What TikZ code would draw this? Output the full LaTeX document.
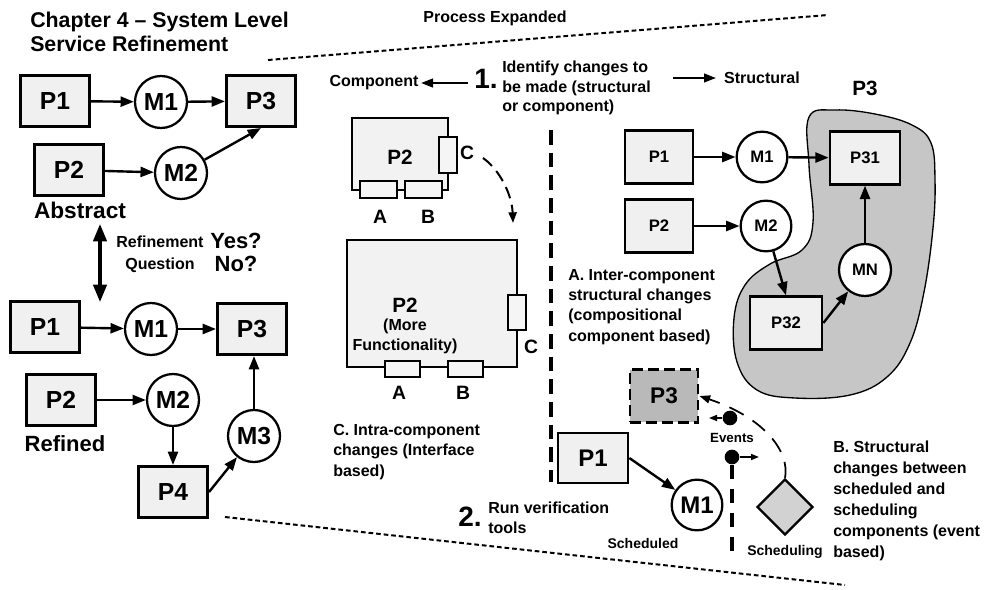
\documentclass[tikz,border=0pt]{standalone}
\usepackage{fontspec}
\setmainfont{Liberation Sans}
\usetikzlibrary{arrows.meta,shapes.geometric}
\newcommand{\fs}[1]{\fontsize{#1}{#1}\selectfont\bfseries}
\tikzset{
  pbox/.style={draw, line width=2pt, fill=gray!12, inner sep=0pt, minimum width=52pt, minimum height=38.5pt},
  mcirc/.style={circle, draw, line width=1.7pt, fill=white, inner sep=0pt, minimum size=39pt},
  conn/.style={line width=1.8pt, -{Triangle[length=10pt,width=7.5pt]}},
  smallconn/.style={line width=1.2pt, -{Triangle[length=6pt,width=4.5pt]}},
  port/.style={draw, line width=1.5pt, fill=gray!8, inner sep=0pt},
  dotline/.style={line width=1.5pt, dash pattern=on 3.5pt off 2.2pt},
  bigdash/.style={line width=2.6pt, dash pattern=on 11pt off 6pt},
  txt/.style={inner sep=0pt, align=left},
  dot/.style={circle, fill=black, inner sep=0pt, minimum size=11pt},
}
\begin{document}
\begin{tikzpicture}[x=0.75pt,y=-0.75pt]
\useasboundingbox (0,0) rectangle (998,589);

% title and headings
\node[txt, anchor=north west, font=\fontsize{16}{18}\selectfont\bfseries] (title) at (30,12) {Chapter 4 – System Level\\Service Refinement};
\node[txt, font=\fs{12}] (procexp) at (495,18) {Process Expanded};

% dotted boundary lines
\coordinate (dt1) at (268,60);
\coordinate (dt2) at (828,15);
\coordinate (db1) at (225,517);
\coordinate (db2) at (845,585);
\draw[dotline] (dt1) -- (dt2);
\draw[dotline] (db1) -- (db2);

% ---------- Abstract diagram ----------
\node[pbox, font=\fs{18.5}] (aP1) at (55,101) {P1};
\node[mcirc, font=\fs{18.5}] (aM1) at (161,102) {M1};
\node[pbox, font=\fs{18.5}] (aP3) at (261,101) {P3};
\node[pbox, font=\fs{18.5}] (aP2) at (69,170) {P2};
\node[mcirc, font=\fs{18.5}] (aM2) at (181,173) {M2};
\node[txt, font=\fs{17}] (abs) at (80,210) {Abstract};
\draw[conn] (aP1) -- (aM1);
\draw[conn] (aM1) -- (aP3);
\draw[conn] (aP2) -- (aM2);
\draw[conn] (aM2) -- (aP3.south);

% refinement arrow
\coordinate (refT) at (100,224);
\coordinate (refB) at (100,302);
\draw[line width=2.4pt, {Triangle[length=13pt,width=10pt]}-{Triangle[length=13pt,width=10pt]}] (refT) -- (refB);
\node[txt, anchor=north, align=center, font=\fontsize{12}{16.5}\selectfont\bfseries] (refq) at (160,236) {Refinement\\Question};
\node[txt, anchor=north, align=center, font=\fontsize{16.5}{17.5}\selectfont\bfseries] (yesno) at (236,233) {Yes?\\No?};

% ---------- Refined diagram ----------
\node[pbox, font=\fs{18.5}] (rP1) at (45,327) {P1};
\node[mcirc, font=\fs{18.5}] (rM1) at (151,329) {M1};
\node[pbox, font=\fs{18.5}] (rP3) at (252,329) {P3};
\node[pbox, font=\fs{18.5}] (rP2) at (61,400) {P2};
\node[mcirc, font=\fs{18.5}] (rM2) at (173,400) {M2};
\node[txt, font=\fs{16.5}] (refd) at (65,444) {Refined};
\node[pbox, font=\fs{18.5}] (rP4) at (173,492) {P4};
\node[mcirc, font=\fs{18.5}] (rM3) at (254,436) {M3};
\draw[conn] (rP1) -- (rM1);
\draw[conn] (rM1) -- (rP3);
\draw[conn] (rP2) -- (rM2);
\draw[conn] (rM2) -- (rP4);
\draw[conn] (rP4.east) -- (rM3);
\draw[conn] (rM3) -- (rM3 |- rP3.south);

% ---------- Step 1 ----------
\node[txt, font=\fs{21}] (one) at (486,79) {1.};
\node[txt, anchor=north west, font=\fontsize{12}{14.6}\selectfont\bfseries] (ident) at (502,61) {Identify changes to\\be made (structural\\or component)};
\node[txt, font=\fs{12}] (compo) at (374,83) {Component};
\node[txt, font=\fs{12}] (struc) at (762,78) {Structural};
\coordinate (cl1) at (468,83);
\coordinate (cl2) at (421,83);
\draw[line width=1.6pt, -{Triangle[length=9pt,width=6.5pt]}] (cl1) -- (cl2);
\coordinate (sr1) at (673,78);
\coordinate (sr2) at (716,78);
\draw[line width=1.6pt, -{Triangle[length=9pt,width=6.5pt]}] (sr1) -- (sr2);

% ---------- Component changes ----------
\node[draw, line width=2pt, fill=gray!10, inner sep=0pt, minimum width=72pt, minimum height=54pt] (sP2) at (400,154) {};
\node[font=\fs{15.5}] (sP2t) at (400,157) {P2};
\node[port, minimum width=13.5pt, minimum height=27pt] (sC) at (448,155) {};
\node[port, minimum width=27.75pt, minimum height=12.75pt] (sA) at (378,189) {};
\node[port, minimum width=27.75pt, minimum height=12.75pt] (sB) at (423,189) {};
\node[txt, font=\fs{14.5}] (lsC) at (467,153) {C};
\node[txt, font=\fs{14.5}] (lsA) at (380,217) {A};
\node[txt, font=\fs{14.5}] (lsB) at (428,217) {B};

\node[draw, line width=2pt, fill=gray!10, inner sep=0pt, minimum width=127.5pt, minimum height=95.25pt] (bP2) at (432,303.5) {};
\node[txt, align=center, font=\fontsize{15.5}{17}\selectfont\bfseries] (bP2t) at (405,305) {P2};
\node[txt, align=center, font=\fontsize{12}{15}\selectfont\bfseries] (bP2m) at (405,336.5) {(More\\Functionality)};
\node[port, minimum width=13.5pt, minimum height=26.25pt] (bC) at (517,312) {};
\node[port, minimum width=26.25pt, minimum height=12pt] (bA) at (402,369) {};
\node[port, minimum width=26.25pt, minimum height=12pt] (bB) at (465,369) {};
\node[txt, font=\fs{14.5}] (lbC) at (531,347) {C};
\node[txt, font=\fs{14.5}] (lbA) at (399,393) {A};
\node[txt, font=\fs{14.5}] (lbB) at (463,393) {B};

\coordinate (cv1) at (483,158);
\coordinate (cv2) at (513,223);
\draw[line width=1.5pt, dash pattern=on 9pt off 5pt, -{Triangle[length=8pt,width=6pt]}] (cv1) .. controls (500,170) and (512,195) .. (cv2);

\node[txt, anchor=north west, font=\fontsize{12}{15.4}\selectfont\bfseries] (ctext) at (333,424) {C. Intra-component\\changes (Interface\\based)};

% divider
\coordinate (dv1) at (551,130);
\coordinate (dv2) at (551,482);
\draw[bigdash] (dv1) -- (dv2);

% ---------- Structural changes ----------
\draw[line width=1pt, fill=gray!45] plot[smooth cycle, tension=0.65] coordinates {
 (809,117) (835,110) (875,114) (912,125) (931,143) (935,180) (933,228) (924,292)
 (910,343) (887,377) (850,395) (795,398) (757,390) (737,362) (734,318) (745,285)
 (770,264) (802,250) (813,222) (809,165)};
\node[txt, font=\fs{15.5}] (p3lab) at (865,88) {P3};

\node[pbox, font=\fs{12.5}, minimum width=51pt, minimum height=39.5pt] (tP1) at (659,157) {P1};
\node[mcirc, font=\fs{12.5}, minimum size=38pt] (tM1) at (762,157) {M1};
\node[pbox, font=\fs{12.5}, minimum width=52.5pt, minimum height=39.5pt] (tP31) at (865,158) {P31};
\node[pbox, font=\fs{12.5}, minimum width=51pt, minimum height=39.5pt] (tP2) at (659,226) {P2};
\node[mcirc, font=\fs{12.5}, minimum size=38pt] (tM2) at (766,226) {M2};
\node[mcirc, font=\fs{12.5}, minimum size=39pt] (tMN) at (865,270) {MN};
\node[pbox, font=\fs{12.5}, minimum width=54pt, minimum height=39.5pt] (tP32) at (786,323) {P32};
\draw[conn] (tP1) -- (tM1);
\draw[conn] (tM1) -- (tP31);
\draw[conn] (tP2) -- (tM2);
\draw[conn] (tM2) -- (tP32.north);
\draw[conn] (tP32.east) -- (tMN);
\draw[conn] (tMN) -- (tP31);

\node[txt, anchor=north west, font=\fontsize{12}{15.2}\selectfont\bfseries] (atext) at (568,269) {A. Inter-component\\structural changes\\(compositional\\component based)};

% ---------- Scheduling ----------
\node[draw, line width=2.2pt, dash pattern=on 8pt off 4pt, fill=gray!55, inner sep=0pt, minimum width=51pt, minimum height=39.5pt, font=\fs{17}] (uP3) at (664,396) {P3};
\node[pbox, font=\fs{18}, minimum width=52.5pt, minimum height=37.5pt] (uP1) at (593,458) {P1};
\node[mcirc, font=\fs{18}, minimum size=38pt] (uM1) at (697,505) {M1};
\draw[conn] (uP1.east) -- (uM1);
\node[txt, font=\fs{10.5}] (sched) at (643,543) {Scheduled};

\node[diamond, draw, line width=1.8pt, fill=gray!35, inner sep=0pt, minimum width=42pt, minimum height=42pt] (dia) at (785,507) {};
\node[txt, font=\fs{10.5}] (schedg) at (785,552) {Scheduling};

\node[dot] (d1) at (730,418) {};
\node[dot] (d2) at (732,457) {};
\coordinate (d1e) at (709,418);
\coordinate (d2e) at (759,457);
\draw[smallconn] (d1) -- (d1e);
\draw[smallconn] (d2) -- (d2e);
\node[txt, font=\fs{10}] (events) at (732,438) {Events};
\coordinate (dv3) at (732,555);
\draw[line width=2.4pt, dash pattern=on 11pt off 7pt] (d2) -- (dv3);
\draw[line width=1.3pt, dash pattern=on 12pt off 8pt, -{Triangle[length=8pt,width=6pt]}] (dia.north) .. controls (790,452) and (765,418) .. (uP3.east);

\node[txt, anchor=north west, font=\fontsize{12}{15.75}\selectfont\bfseries] (btext) at (833,441) {B. Structural\\changes between\\scheduled and\\scheduling\\components (event\\based)};

% ---------- Step 2 ----------
\node[txt, font=\fs{21}] (two) at (470,517) {2.};
\node[txt, anchor=north west, font=\fontsize{12}{15}\selectfont\bfseries] (runv) at (488,502) {Run verification\\tools};
\end{tikzpicture}
\end{document}
